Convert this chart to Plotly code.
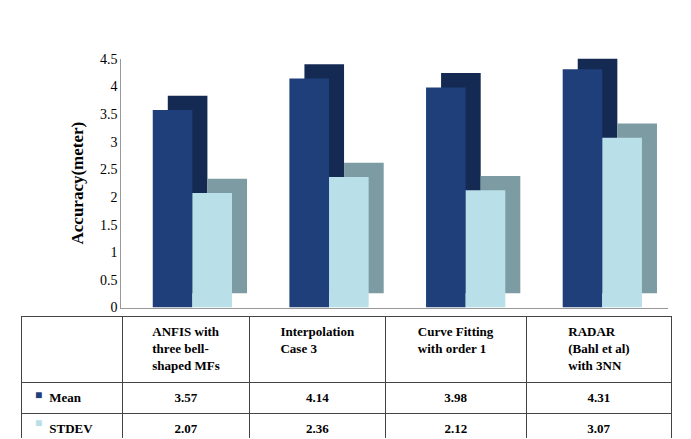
import plotly.graph_objects as go

categories = ["ANFIS with<br>three bell-<br>shaped MFs", "Interpolation<br>Case 3",
              "Curve Fitting<br>with order 1", "RADAR<br>(Bahl et al)<br>with 3NN"]
mean_vals = [3.57, 4.14, 3.98, 4.31]
stdev_vals = [2.07, 2.36, 2.12, 3.07]
xs = [0, 1, 2, 3]

dark, dark_side = "#1f3f7a", "#142a52"
light, light_side = "#b9dfe9", "#7c9ba3"
serif = "Liberation Serif"

fig = go.Figure()
# depth faces drawn first, shifted right and up
for vals, col, off in [(mean_vals, dark_side, -0.27), (stdev_vals, light_side, 0.02)]:
    fig.add_trace(go.Bar(x=xs, y=vals, base=0.26, offset=off + 0.11, width=0.29,
                         marker=dict(color=col, line=dict(width=0)), showlegend=False,
                         hoverinfo="skip"))
for vals, col, off, name in [(mean_vals, dark, -0.27, "Mean"), (stdev_vals, light, 0.02, "STDEV")]:
    fig.add_trace(go.Bar(x=xs, y=vals, offset=off, width=0.29, name=name,
                         marker=dict(color=col, line=dict(width=0)), showlegend=False))

fig.add_trace(go.Table(
    domain=dict(x=[0.02, 0.962], y=[0, 0.29]),
    columnwidth=[100, 127, 135, 140, 145],
    header=dict(values=[""] + ["<b>%s</b>" % c for c in categories],
                height=66, align="center", fill_color="white",
                line=dict(color="#444", width=1),
                font=dict(family=serif, size=13, color="black")),
    cells=dict(values=[["<b>      Mean</b>", "<b>      STDEV</b>"]] +
               [["<b>%.2f</b>" % m, "<b>%.2f</b>" % s] for m, s in zip(mean_vals, stdev_vals)],
               height=25, align=["left", "center"], fill_color="white",
               line=dict(color="#444", width=1),
               font=dict(family=serif, size=13, color="black"))
))

# legend keys in the table's first column
for yy, col in [(404, dark), (433, light)]:
    fig.add_annotation(x=0.036, y=1 - yy / 439, xref="paper", yref="paper", text="■",
                       showarrow=False, font=dict(size=12, color=col))

fig.update_layout(
    width=691, height=439, barmode="overlay",
    margin=dict(l=0, r=0, t=0, b=0),
    plot_bgcolor="white", paper_bgcolor="white",
    xaxis=dict(domain=[0.164, 0.955], range=[-0.5, 3.5], showticklabels=False,
               showgrid=False, zeroline=False, showline=True, linecolor="#999"),
    yaxis=dict(domain=[0.31, 0.897], range=[0, 4.5], dtick=0.5, showgrid=False,
               zeroline=False, showline=True, linecolor="#999", ticks="",
               tickfont=dict(family=serif, size=14, color="black"),
               title=dict(text="<b>Accuracy(meter)</b>", standoff=12,
                          font=dict(family=serif, size=17, color="black"))),
)
fig.write_html("out.html")
